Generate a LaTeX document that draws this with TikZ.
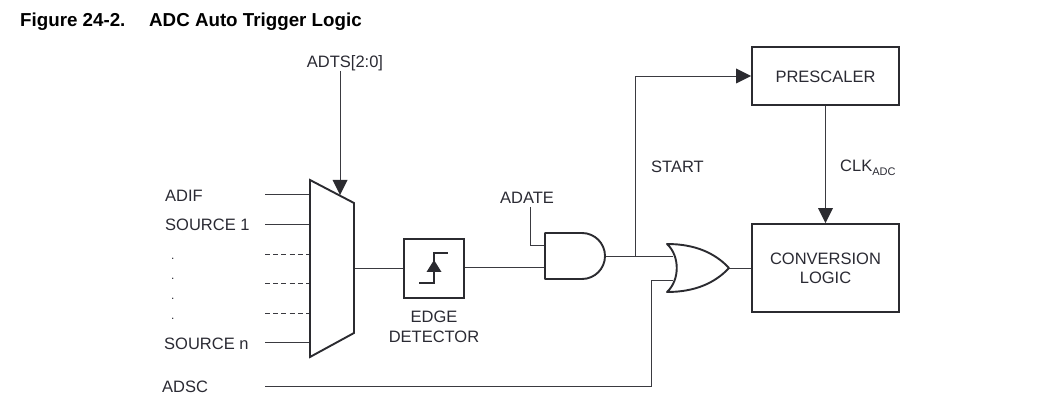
\documentclass[tikz,border=0pt]{standalone}
\usepackage{fontspec}
\setmainfont{Liberation Sans}
\definecolor{ink}{HTML}{2B2B30}
\definecolor{wire}{HTML}{3A3A40}
\definecolor{txt}{HTML}{2A2A33}
\begin{document}
\begin{tikzpicture}[x=1pt,y=-1pt,line join=miter,
  box/.style={draw=ink,line width=1.9pt,inner sep=0pt,align=center,font=\fontsize{16.5}{19.3}\selectfont,text=txt},
  lab/.style={inner sep=0pt,font=\fontsize{16.5}{19.5}\selectfont,text=txt,align=center},
  ttl/.style={inner sep=0pt,anchor=base west,font=\fontsize{18.75}{20}\selectfont\bfseries,text=black},
  wirepath/.style={draw=wire,line width=0.85pt},
  dashwire/.style={draw=wire,line width=0.95pt,dash pattern=on 5pt off 3.2pt},
  gate/.style={draw=ink,line width=1.9pt,fill=white,line join=round},
  tip/.style={fill=ink,draw=none}]
\useasboundingbox (0,0) rectangle (1041,403);
% title
\node[ttl] (t1) at (20,26.5) {Figure 24-2.};
\node[ttl] (t2) at (149,26.5) {ADC Auto Trigger Logic};
% anchors
\coordinate (mTL) at (310,180);
\coordinate (mTR) at (354,203);
\coordinate (mBR) at (354,333);
\coordinate (mBL) at (310,357);
\coordinate (mOut) at (354,268);
\coordinate (i1) at (265,194);\coordinate (m1) at (310,194);
\coordinate (i2) at (265,224);\coordinate (m2) at (310,224);
\coordinate (i3) at (265,254);\coordinate (m3) at (310,254);
\coordinate (i4) at (265,283);\coordinate (m4) at (310,283);
\coordinate (i5) at (265,313);\coordinate (m5) at (310,313);
\coordinate (i6) at (265,342);\coordinate (m6) at (310,342);
\coordinate (iS) at (265,386);
\coordinate (muxTop) at (340,195);
\coordinate (andIn1) at (545,245);
\coordinate (andIn2) at (545,267);
\coordinate (andOut) at (605,256);
\coordinate (adateEnd) at (530,207);
\coordinate (orIn1) at (673,256);
\coordinate (orIn2) at (673,280);
\coordinate (orOut) at (729,268);
\coordinate (branch) at (635,256);
% boxes
\node[box,minimum width=60pt,minimum height=59pt] (edge) at (434,268.5) {};
\node[box,minimum width=147pt,minimum height=58pt,text height=14pt,text depth=0pt] (pre) at (825.5,76) {PRESCALER};
\node[box,minimum width=147pt,minimum height=88pt] (conv) at (825.5,268) {CONVERSION\\[0pt]LOGIC};
% labels
\node[lab] (adts) at (345,63) {ADTS[2:0]};
\node[lab,anchor=west] (adif) at (165,196) {ADIF};
\node[lab,anchor=west] (s1) at (165,225) {SOURCE 1};
\node[lab,anchor=west] (sn) at (164,344) {SOURCE n};
\node[lab,anchor=west] (adsc) at (162,387) {ADSC};
\node[lab] (adate) at (527,198) {ADATE};
\node[lab,anchor=west] (start) at (651,167) {START};
\node[lab,anchor=west] (clk) at (840,168) {CLK\raisebox{-3.5pt}{\fontsize{11}{11}\selectfont ADC}};
\node[lab] (edlab) at (434,327) {EDGE\\[0pt]DETECTOR};
\node[lab,font=\fontsize{12}{12}\selectfont] (d1) at (172.7,259) {.};
\node[lab,font=\fontsize{12}{12}\selectfont] (d2) at (172.7,279) {.};
\node[lab,font=\fontsize{12}{12}\selectfont] (d3) at (172.7,299) {.};
\node[lab,font=\fontsize{12}{12}\selectfont] (d4) at (172.7,319) {.};
% wires
\draw[wirepath] (i1)--(m1);
\draw[wirepath] (i2)--(m2);
\draw[dashwire] (i3)--(m3);
\draw[dashwire] (i4)--(m4);
\draw[dashwire] (i5)--(m5);
\draw[wirepath] (i6)--(m6);
\draw[wirepath] (mOut)--(mOut-|edge.west);
\draw[wirepath] (edge.east|-andIn2)--(andIn2);
\draw[wirepath] (adateEnd)--(adateEnd|-andIn1)--(andIn1);
\draw[wirepath] (andOut)--(orIn1);
\draw[wirepath] (branch)--(branch|-pre.west)--([xshift=-15pt]pre.west);
\draw[wirepath] (iS)--(iS-|651,0)--(651,280)--(orIn2);
\draw[wirepath] (orOut)--(orOut-|conv.west);
\draw[wirepath] (adts.south-|muxTop)--([yshift=14pt]muxTop);
\draw[wirepath] (pre.south)--([yshift=14pt]conv.north);
% arrowheads
\fill[tip] (pre.west)--++(-15,-7.5)--++(0,15)--cycle;
\fill[tip] (conv.north)--++(-7.5,-15)--++(15,0)--cycle;
% mux
\draw[gate,line join=miter] (mTL)--(mTR)--(mBR)--(mBL)--cycle;
\fill[tip] (muxTop)--++(-7.5,-15)--++(15,0)--cycle;
% edge symbol
\draw[draw=ink,line width=1.2pt] (419,283)--(434,283)--(434,253)--(448,253);
\fill[tip] (434,260)--(441.5,272)--(426.5,272)--cycle;
% AND
\draw[gate] (545,233)--(582,233) arc[start angle=-90,end angle=90,x radius=23pt,y radius=-23pt]--(545,279)--cycle;
% OR
\draw[gate] (667,244) .. controls (680,256) and (680,280) .. (667,292)
  .. controls (695,292) and (715,283) .. (729,268)
  .. controls (715,253) and (695,244) .. (667,244) -- cycle;
\end{tikzpicture}
\end{document}
